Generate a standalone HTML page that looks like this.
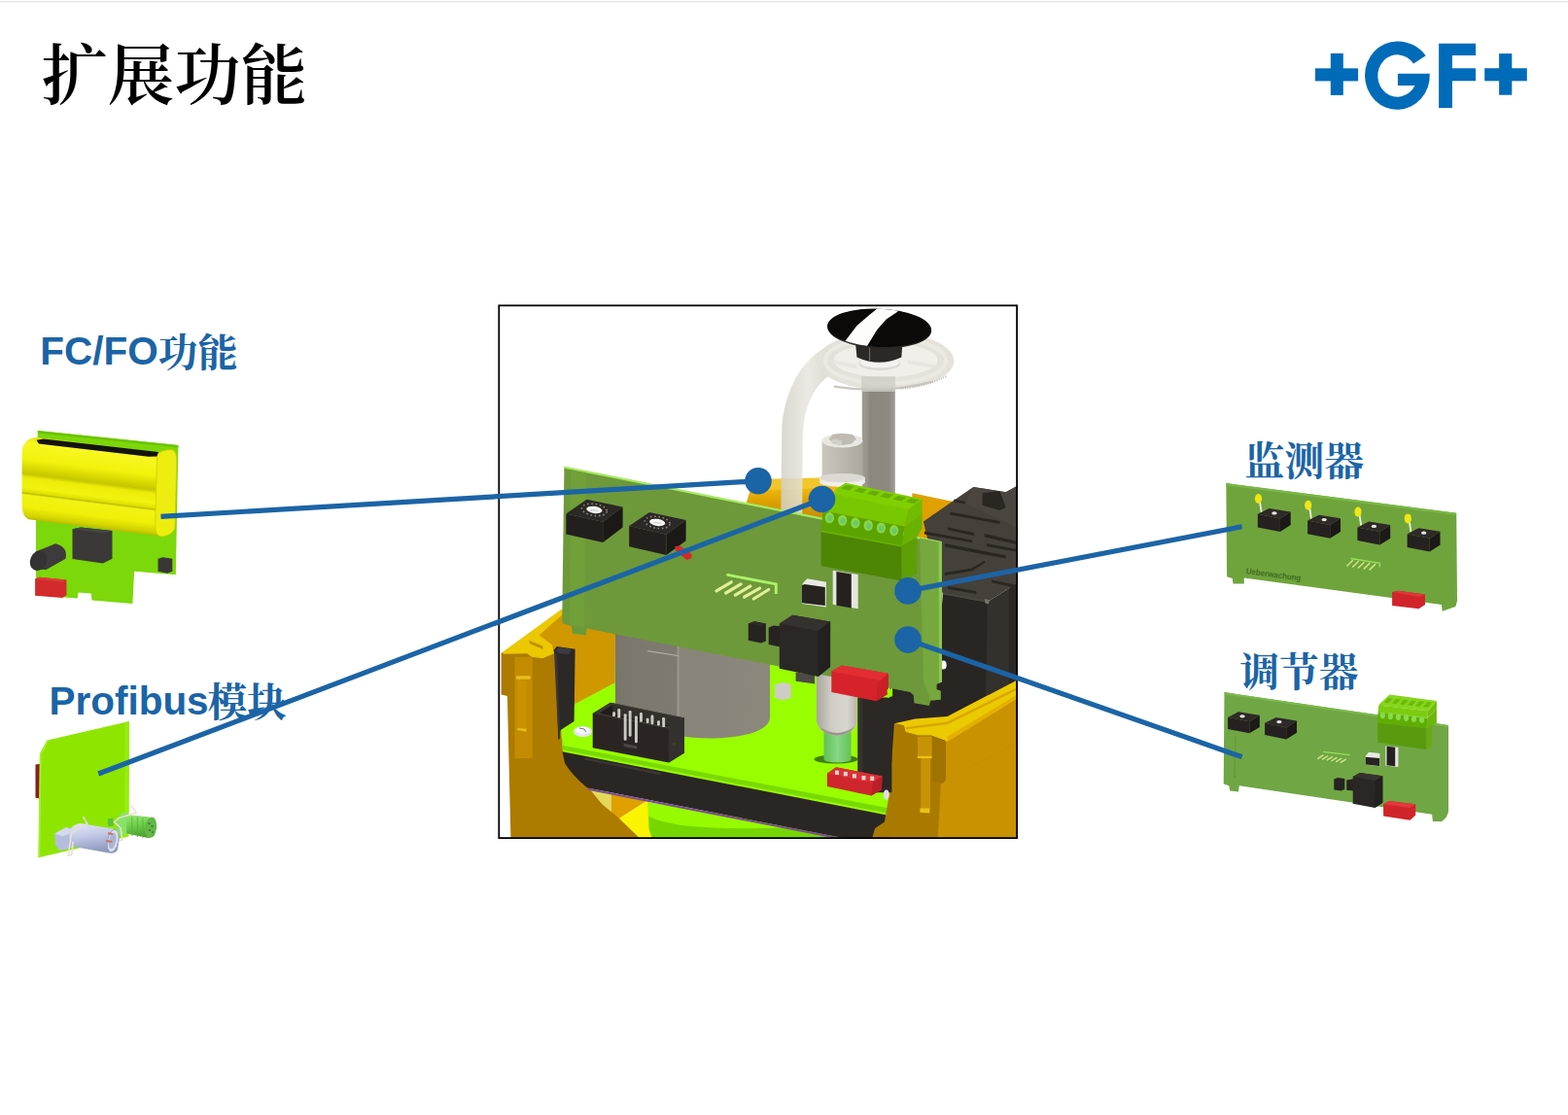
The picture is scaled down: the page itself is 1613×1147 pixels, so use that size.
<!DOCTYPE html>
<html><head><meta charset="utf-8"><title>slide</title>
<style>
html,body{margin:0;padding:0;background:#fff;}
body{width:1613px;height:1147px;overflow:hidden;position:relative;font-family:"Liberation Sans",sans-serif;}
svg{position:absolute;left:0;top:0;}
.lbl{position:absolute;font-family:"Liberation Sans",sans-serif;font-weight:bold;font-size:40.5px;line-height:40px;color:#1b64a6;white-space:nowrap;margin:0;}
</style></head><body>
<svg width="1613" height="1147" viewBox="0 0 1613 1147">
<defs>
<linearGradient id="grim" gradientUnits="userSpaceOnUse" x1="0" y1="491" x2="0" y2="535"><stop offset="0" stop-color="#f3c92a"/><stop offset="0.3" stop-color="#ecb60c"/><stop offset="0.55" stop-color="#dda200"/><stop offset="1" stop-color="#c48a00"/></linearGradient>
<linearGradient id="gtube" x1="0" x2="1"><stop offset="0" stop-color="#d2d0c5"/><stop offset="0.45" stop-color="#e6e5de"/><stop offset="1" stop-color="#cfcdc2"/></linearGradient>
<linearGradient id="gshaft" x1="0" x2="1"><stop offset="0" stop-color="#a19c93"/><stop offset="0.16" stop-color="#98938a"/><stop offset="0.24" stop-color="#8c877e"/><stop offset="0.8" stop-color="#8f8a81"/><stop offset="1" stop-color="#a09b92"/></linearGradient>
<clipPath id="discclip"><ellipse cx="904.6" cy="337.3" rx="53.4" ry="19.6" transform="rotate(2.5 904.6 337.3)"/></clipPath>
<linearGradient id="ghex" x1="0" x2="1"><stop offset="0" stop-color="#cbc7be"/><stop offset="0.45" stop-color="#beb9af"/><stop offset="1" stop-color="#aca89e"/></linearGradient>
<linearGradient id="gmotor" x1="0" x2="1" y1="0" y2="0"><stop offset="0" stop-color="#79746a"/><stop offset="0.08" stop-color="#7d786e"/><stop offset="0.395" stop-color="#7f7a70"/><stop offset="0.405" stop-color="#9b968b"/><stop offset="0.42" stop-color="#89847a"/><stop offset="1" stop-color="#8c877b"/></linearGradient>
<linearGradient id="gstand" x1="0" x2="1"><stop offset="0" stop-color="#a9a59c"/><stop offset="0.35" stop-color="#cfccc5"/><stop offset="0.75" stop-color="#d8d6d0"/><stop offset="1" stop-color="#b9b5ad"/></linearGradient>
<linearGradient id="gstem" x1="0" x2="1"><stop offset="0" stop-color="#62bf58"/><stop offset="0.5" stop-color="#86d884"/><stop offset="1" stop-color="#66c05a"/></linearGradient>
<linearGradient id="gbat" gradientUnits="userSpaceOnUse" x1="30" y1="449" x2="19.4" y2="532.9"><stop offset="0" stop-color="#e2e200"/><stop offset="0.08" stop-color="#f7f722"/><stop offset="0.28" stop-color="#f2f20c"/><stop offset="0.40" stop-color="#d4d400"/><stop offset="0.455" stop-color="#c6c600"/><stop offset="0.50" stop-color="#ecec08"/><stop offset="0.62" stop-color="#f3f310"/><stop offset="0.675" stop-color="#dede00"/><stop offset="0.69" stop-color="#bcbc00"/><stop offset="0.71" stop-color="#f3f314"/><stop offset="0.86" stop-color="#efef08"/><stop offset="0.96" stop-color="#d2d200"/><stop offset="1" stop-color="#bcbc00"/></linearGradient>
<linearGradient id="gblue" x1="0" y1="0" x2="0.25" y2="1"><stop offset="0" stop-color="#e4e8f6"/><stop offset="0.45" stop-color="#c4cce8"/><stop offset="1" stop-color="#8f9abf"/></linearGradient>
<linearGradient id="ggrn" x1="0" y1="0" x2="0.2" y2="1"><stop offset="0" stop-color="#9be878"/><stop offset="0.5" stop-color="#6fcf4c"/><stop offset="1" stop-color="#4aa030"/></linearGradient>
<clipPath id="frameclip"><rect x="513.8" y="314.8" width="532" height="547"/></clipPath>
</defs>
<rect x="0" y="1" width="1613" height="1.4" fill="#e3e3e3"/>
<!-- title -->
<text x="42.4" y="102" font-family="'Liberation Serif','Noto Serif CJK SC',serif" font-size="68" font-weight="600" fill="#000" textLength="273.6" lengthAdjust="spacingAndGlyphs">扩展功能</text>
<!-- logo -->
<g fill="#006bb9">
<rect x="1353" y="70.3" width="44.1" height="13.1"/><rect x="1368.8" y="54.9" width="13" height="43"/>
<path d="M1466.7,57.3 A35.6,35.3 0 0 0 1437.4,42.4 A33.4,35.2 0 1 0 1470.75,75.70 L1437.9,75.7 L1437.9,87.9 L1455.48,87.90 A20.2,21.7 0 1 1 1454.05,65.55 Z"/>
<path d="M1480.1,44.7 H1518 V57 H1493.9 V70.2 H1518 V83.3 H1493.9 V110.9 H1480.1 Z"/>
<rect x="1527.2" y="70.2" width="43.6" height="13.1"/><rect x="1542.1" y="55.1" width="13.2" height="42.6"/>
</g>
<!-- side illustrations -->
<polygon points="38.8,443.1 183.4,457.9 180.8,591.2 138.1,587.7 136.4,620.9 94.5,617.4 93.7,610.4 80.6,609.5 79.7,615.6 37.0,612.2 37.0,517.2" fill="#7cd80a" />
<polygon points="38.8,443.1 183.4,457.9 183.3,460.5 38.8,445.7" fill="#6cc400" />
<polygon points="74.5,544.2 83.2,542.4 115.5,545.9 115.5,574.7 105.9,579.4 74.5,575.0" fill="#3b3937" />
<polygon points="74.5,544.2 83.2,542.4 115.5,545.9 106.7,548.5" fill="#474543" />
<polygon points="162.5,574.7 167.7,573.3 177.3,574.7 177.3,587.7 172.1,589.8 162.5,587.7" fill="#3a3836" />
<path d="M36.1,567.7 L57.1,559.3 Q70.1,562.5 67.5,574.7 L47.5,586.0 Q29.2,586.9 36.1,567.7 Z" fill="#3d3b3b"/>
<ellipse cx="39.6" cy="576.8" rx="8.5" ry="10.5" fill="#343232" transform="rotate(25 39.6 576.8)"/>
<polygon points="36.1,595.6 40.5,593.8 68.4,596.5 68.4,612.2 64.0,615.1 36.1,612.7" fill="#d32a2c" />
<polygon points="36.1,595.6 40.5,593.8 68.4,596.5 64.4,598.7" fill="#e03a3a" />
<path d="M22.6,464.9 Q23.9,450.9 37.9,450.0 L162.5,465.4 L161.6,551.1 L29.2,534.2 Q22.2,531.1 22.6,517.2 Z" fill="url(#gbat)"/>
<path d="M161.6,467.5 Q166.9,462.2 177.3,462.8 Q182.6,464.9 181.7,478.8 L179.9,543.3 Q177.3,550.3 166.9,552.0 Q159.9,552.0 159.6,541.6 Z" fill="#eded10" stroke="#cfcf00" stroke-width="0.8"/>
<polygon points="37.5,452.7 44.9,451.6 163.0,464.9 161.3,469.4 152.9,469.7 40.0,456.5" fill="#14120c" />
<polygon points="36.5,786.5 41.2,785.8 41.2,821.4 36.5,820.7" fill="#8e1b1e" />
<polygon points="40.9,775.3 48.6,761.4 133.0,741.9 132.3,860.6 39.5,882.3" fill="#8ee600" />
<polygon points="128.5,743.0 133.0,741.9 132.3,860.6 128.1,861.5" fill="#96ee0a" />
<polygon points="40.9,775.3 48.6,761.4 50.0,762.1 42.6,776.0 41.2,882.0 39.5,882.3" fill="#a4f02a" />
<polygon points="56.3,857.6 68.1,851.1 77.2,854.8 77.2,870.9 61.8,875.3 57.0,869.5" fill="#b4bedc" />
<polygon points="56.3,857.6 68.1,851.1 77.2,854.8 64.6,860.4" fill="#d4daf0" />
<path d="M70.9,859.7 Q70.9,848.6 82.8,846.9 L116.2,852.5 Q122.5,855.5 122.5,863.9 L121.1,873.7 Q119.0,878.6 112.1,877.6 L77.2,871.2 Q70.9,869.5 70.9,859.7 Z" fill="url(#gblue)"/>
<ellipse cx="116.2" cy="865.0" rx="5.6" ry="11.8" fill="#d9def0" stroke="#8f98ba" stroke-width="0.8" transform="rotate(12 116.2 865.0)"/>
<ellipse cx="115.6" cy="865.0" rx="3.6" ry="8.5" fill="#aeb4cf" transform="rotate(12 115.6 865.0)"/>
<polygon points="111.4,856.2 116.2,856.9 116.0,859.0 110.9,858.3" fill="#c97058" />
<polygon points="109.3,863.9 115.6,865.0 115.3,867.0 109.0,866.0" fill="#c97058" />
<polyline points="85.6,840.2 89.7,847.2 73.7,856.2 70.2,880.0 73.7,879.3 75.1,866.0" fill="none" stroke="#e6e1d6" stroke-width="1.6"/>
<polyline points="86.7,840.5 90.9,847.5" fill="none" stroke="#bdb8ae" stroke-width="0.6"/>
<polygon points="110.7,842.3 116.2,841.6 116.9,849.3 111.4,850.2" fill="#5cc040" />
<ellipse cx="126.7" cy="847.5" rx="6.6" ry="12.4" fill="#8be066" transform="rotate(10 126.7 847.5)"/>
<path d="M130.2,838.1 L152.5,840.2 Q160.9,843.0 161.2,851.4 L159.5,857.6 Q158.1,862.5 151.1,861.8 L130.2,857.6 Z" fill="url(#ggrn)"/>
<ellipse cx="155.0" cy="851.1" rx="5.8" ry="10.8" fill="#63b848" transform="rotate(10 155.0 851.1)"/>
<circle cx="153.5" cy="847.1" r="1.1" fill="#3c7a2c"/>
<circle cx="156.5" cy="850.1" r="1.1" fill="#3c7a2c"/>
<circle cx="154.0" cy="854.1" r="1.1" fill="#3c7a2c"/>
<circle cx="157.0" cy="856.1" r="1.1" fill="#3c7a2c"/>
<line x1="135.8" y1="840.1" x2="135.8" y2="860.0" stroke="#58b23c" stroke-width="0.9"/>
<line x1="141.4" y1="840.6" x2="141.4" y2="861.0" stroke="#58b23c" stroke-width="0.9"/>
<line x1="146.9" y1="841.2" x2="146.9" y2="862.0" stroke="#58b23c" stroke-width="0.9"/>
<polyline points="134.4,827.6 140.0,836.0 121.8,841.6 117.6,845.8 123.9,851.4 126.0,863.9 123.2,864.6" fill="none" stroke="#e6e1d6" stroke-width="1.6"/>
<polygon points="1261.3,497.1 1498.2,527.7 1499.0,618.0 1497.4,623.9 1483.7,628.8 1482.9,622.0 1279.8,594.6 1279.8,600.4 1268.5,600.4 1267.7,594.9 1262.1,593.3" fill="#6fa43c" />
<polygon points="1261.3,497.1 1498.2,527.7 1498.2,530.1 1261.3,499.5" fill="#7ab845" />
<line x1="1295.9" y1="515.6" x2="1297.7" y2="527.2" stroke="#eef0e0" stroke-width="1.8"/>
<ellipse cx="1294.5" cy="513.0" rx="3.6" ry="5" fill="#f0e616"/>
<polygon points="1293.8,528.8 1316.9,533.4 1316.9,547.1 1293.8,542.5" fill="#252120" />
<polygon points="1316.9,533.4 1327.7,526.4 1327.7,540.1 1316.9,547.1" fill="#1c1918" />
<polygon points="1293.8,528.8 1305.6,522.9 1327.7,526.4 1316.9,533.4" fill="#2e2a28" />
<ellipse cx="1310.9" cy="527.9" rx="2.7" ry="1.6" fill="#e8e8e6"/>
<line x1="1347.2" y1="522.4" x2="1349.0" y2="534.0" stroke="#eef0e0" stroke-width="1.8"/>
<ellipse cx="1345.7" cy="519.8" rx="3.6" ry="5" fill="#f0e616"/>
<polygon points="1345.1,535.6 1368.2,540.1 1368.2,553.8 1345.1,549.3" fill="#252120" />
<polygon points="1368.2,540.1 1379.0,533.2 1379.0,546.9 1368.2,553.8" fill="#1c1918" />
<polygon points="1345.1,535.6 1356.9,529.7 1379.0,533.2 1368.2,540.1" fill="#2e2a28" />
<ellipse cx="1362.2" cy="534.6" rx="2.7" ry="1.6" fill="#e8e8e6"/>
<line x1="1398.5" y1="529.2" x2="1400.2" y2="540.8" stroke="#eef0e0" stroke-width="1.8"/>
<ellipse cx="1397.0" cy="526.6" rx="3.6" ry="5" fill="#f0e616"/>
<polygon points="1396.4,542.4 1419.4,546.9 1419.4,560.6 1396.4,556.1" fill="#252120" />
<polygon points="1419.4,546.9 1430.2,540.0 1430.2,553.7 1419.4,560.6" fill="#1c1918" />
<polygon points="1396.4,542.4 1408.1,536.4 1430.2,540.0 1419.4,546.9" fill="#2e2a28" />
<ellipse cx="1413.4" cy="541.4" rx="2.7" ry="1.6" fill="#e8e8e6"/>
<line x1="1449.7" y1="535.9" x2="1451.5" y2="547.5" stroke="#eef0e0" stroke-width="1.8"/>
<ellipse cx="1448.3" cy="533.4" rx="3.6" ry="5" fill="#f0e616"/>
<polygon points="1447.6,549.2 1470.7,553.7 1470.7,567.4 1447.6,562.9" fill="#252120" />
<polygon points="1470.7,553.7 1481.5,546.7 1481.5,560.4 1470.7,567.4" fill="#1c1918" />
<polygon points="1447.6,549.2 1459.4,543.2 1481.5,546.7 1470.7,553.7" fill="#2e2a28" />
<ellipse cx="1464.7" cy="548.2" rx="2.7" ry="1.6" fill="#e8e8e6"/>
<polyline points="1389.4,574.5 1419.3,579.3 1419.3,583.6" fill="none" stroke="#98e058" stroke-width="1.4"/>
<line x1="1385.4" y1="582.5" x2="1391.8" y2="576.2" stroke="#cfe488" stroke-width="1.5"/>
<line x1="1391.2" y1="583.5" x2="1397.7" y2="577.2" stroke="#cfe488" stroke-width="1.5"/>
<line x1="1397.0" y1="584.5" x2="1403.5" y2="578.2" stroke="#cfe488" stroke-width="1.5"/>
<line x1="1402.8" y1="585.4" x2="1409.3" y2="579.1" stroke="#cfe488" stroke-width="1.5"/>
<line x1="1408.6" y1="586.4" x2="1415.1" y2="580.1" stroke="#cfe488" stroke-width="1.5"/>
<polygon points="1432.1,609.1 1438.6,607.8 1466.0,611.5 1466.0,622.0 1459.5,626.2 1432.1,623.0" fill="#d1242a" />
<polygon points="1432.1,609.1 1438.6,607.8 1466.0,611.5 1459.5,614.0" fill="#e0353a" />
<text x="0" y="0" transform="translate(1281.4,590.1) rotate(7.6)" font-family="Liberation Sans, sans-serif" font-weight="bold" font-size="8.6" fill="#3e6d20" textLength="57" lengthAdjust="spacingAndGlyphs">Ueberwachung</text>
<polygon points="1259.5,712.1 1490.0,745.9 1490.0,835.4 1487.6,841.0 1483.2,845.1 1473.9,845.1 1473.1,837.8 1274.8,808.3 1274.0,814.4 1265.1,813.6 1264.3,808.3 1258.7,806.4" fill="#70a644" />
<polygon points="1259.5,712.1 1490.0,745.9 1490.0,748.0 1259.5,714.2" fill="#7cba4c" />
<line x1="1270.8" y1="758.0" x2="1270.0" y2="799.9" stroke="#5e9236" stroke-width="1.6" stroke-dasharray="1.5 1.2" opacity="0.8"/>
<polygon points="1263.1,737.9 1285.3,742.2 1285.3,754.3 1263.1,750.0" fill="#252120" />
<polygon points="1285.3,742.2 1295.8,735.8 1295.8,747.9 1285.3,754.3" fill="#1c1918" />
<polygon points="1263.1,737.9 1274.0,732.2 1295.8,735.8 1285.3,742.2" fill="#2e2a28" />
<ellipse cx="1278.0" cy="736.8" rx="2.7" ry="1.6" fill="#e8e8e6"/>
<polygon points="1301.1,743.8 1323.2,748.4 1323.2,760.4 1301.1,755.9" fill="#252120" />
<polygon points="1323.2,748.4 1334.0,741.6 1334.0,753.7 1323.2,760.4" fill="#1c1918" />
<polygon points="1301.1,743.8 1312.7,737.9 1334.0,741.6 1323.2,748.4" fill="#2e2a28" />
<ellipse cx="1315.9" cy="742.6" rx="2.7" ry="1.6" fill="#e8e8e6"/>
<polyline points="1361.1,773.3 1388.5,776.7" fill="none" stroke="#98e058" stroke-width="1.2"/>
<line x1="1355.4" y1="780.6" x2="1361.4" y2="776.7" stroke="#d2e68c" stroke-width="1.4"/>
<line x1="1360.1" y1="781.4" x2="1366.1" y2="777.5" stroke="#d2e68c" stroke-width="1.4"/>
<line x1="1364.8" y1="782.2" x2="1370.7" y2="778.3" stroke="#d2e68c" stroke-width="1.4"/>
<line x1="1369.4" y1="783.0" x2="1375.4" y2="779.1" stroke="#d2e68c" stroke-width="1.4"/>
<line x1="1374.1" y1="783.8" x2="1380.1" y2="780.0" stroke="#d2e68c" stroke-width="1.4"/>
<line x1="1378.8" y1="784.6" x2="1384.8" y2="780.8" stroke="#d2e68c" stroke-width="1.4"/>
<polygon points="1425.2,767.4 1438.4,768.7 1438.4,789.0 1425.2,787.4" fill="#e8e7e2" />
<polygon points="1426.5,767.7 1435.2,768.7 1435.2,788.3 1426.5,787.2" fill="#242120" />
<polygon points="1404.9,777.4 1408.1,773.8 1419.4,775.1 1419.4,788.3 1404.9,786.7" fill="#e9e9e5" />
<polygon points="1404.9,778.7 1419.1,780.1 1419.1,788.0 1404.9,786.6" fill="#262321" />
<polygon points="1372.3,801.6 1376.4,799.9 1383.3,800.9 1383.3,812.0 1379.6,813.6 1372.3,812.5" fill="#262321" />
<polygon points="1385.2,802.4 1392.5,801.2 1392.5,813.6 1385.2,812.8" fill="#262321" />
<polygon points="1391.7,799.1 1398.9,795.1 1422.3,798.3 1422.3,825.7 1414.3,830.9 1391.7,826.7" fill="#2a2725" />
<polygon points="1391.7,799.1 1398.9,795.1 1422.3,798.3 1414.6,803.2" fill="#36322f" />
<polygon points="1414.6,803.2 1422.3,798.3 1422.3,825.7 1414.3,830.9" fill="#222020" />
<polygon points="1423.1,827.3 1428.8,824.1 1456.2,827.3 1456.2,838.6 1450.5,843.8 1423.1,839.6" fill="#d1242a" />
<polygon points="1423.1,827.3 1428.8,824.1 1456.2,827.3 1450.5,830.9" fill="#e3383c" />
<polygon points="1417.2,743.5 1467.4,749.2 1467.4,770.9 1417.2,763.8" fill="#5a9a0e" />
<polygon points="1467.4,749.2 1473.1,746.7 1473.1,768.0 1467.4,770.9" fill="#68aa14" />
<polygon points="1417.5,733.0 1468.3,738.7 1467.4,749.2 1417.2,743.5" fill="#60ae02" />
<polygon points="1468.3,738.7 1477.9,729.0 1477.9,743.5 1473.1,746.7 1467.4,749.2" fill="#6cb60e" />
<polygon points="1418.3,725.5 1469.1,731.3 1468.3,738.7 1417.5,733.2" fill="#7ccc10" />
<polygon points="1469.1,731.3 1477.9,721.0 1477.9,729.0 1468.3,738.7" fill="#72be0c" />
<polygon points="1419.1,724.2 1429.6,714.5 1477.9,721.0 1469.1,731.3 1418.3,725.8" fill="#86d61e" />
<ellipse cx="1422.3" cy="735.8" rx="2.6" ry="3.4" fill="#8ad850"/>
<polygon points="1423.6,722.6 1428.0,718.1 1432.8,718.7 1428.4,723.2" fill="#6cba08" />
<ellipse cx="1430.4" cy="736.7" rx="2.6" ry="3.4" fill="#8ad850"/>
<polygon points="1431.7,723.5 1436.0,718.9 1440.8,719.5 1436.5,724.1" fill="#6cba08" />
<ellipse cx="1438.4" cy="737.6" rx="2.6" ry="3.4" fill="#8ad850"/>
<polygon points="1439.7,724.4 1444.1,719.7 1448.9,720.3 1444.6,725.0" fill="#6cba08" />
<ellipse cx="1446.5" cy="738.5" rx="2.6" ry="3.4" fill="#8ad850"/>
<polygon points="1447.8,725.3 1452.1,720.5 1457.0,721.1 1452.6,725.9" fill="#6cba08" />
<ellipse cx="1454.5" cy="739.4" rx="2.6" ry="3.4" fill="#8ad850"/>
<polygon points="1455.8,726.2 1460.2,721.3 1465.0,721.9 1460.7,726.8" fill="#6cba08" />
<ellipse cx="1462.6" cy="740.3" rx="2.6" ry="3.4" fill="#8ad850"/>
<polygon points="1463.9,727.1 1468.3,722.1 1473.1,722.7 1468.7,727.7" fill="#6cba08" />
<!-- main illustration -->
<g clip-path="url(#frameclip)">
<rect x="513" y="314" width="534" height="549" fill="#fff"/>
<polygon points="767.0,520.2 774.8,493.4 842.8,492.3 869.6,497.9 947.7,513.5 979.0,515.7 979.0,538.0 946.6,547.0 842.8,547.0 773.7,531.3" fill="url(#grim)" />
<polygon points="771.4,504.6 777.7,492.9 842.8,491.6 856.2,495.6 842.8,502.3" fill="#f2c62a" />
<path d="M856.2,354.4 C832.5,362.5 809.3,390.6 804.4,437.0 L803.2,529.7 L825.2,529.7 L825.9,446.7 C827.6,415.0 838.6,393.0 863.0,379.6 Z" fill="url(#gtube)" opacity="0.84"/>
<rect x="886.8" y="380" width="34" height="130" fill="url(#gshaft)"/>
<ellipse cx="910.8" cy="371.3" rx="70.6" ry="29.6" fill="#e2e0d8" opacity="0.94"/>
<ellipse cx="911" cy="370.5" rx="53.5" ry="17.5" fill="#f0efea" opacity="0.95"/>
<ellipse cx="911" cy="371" rx="62" ry="23.6" fill="none" stroke="#ecebe6" stroke-width="4" opacity="0.8"/>
<polygon points="886.1,387.2 920.8,387.2 920.8,402.9 886.1,402.9" fill="#cfccc4" opacity="0.75"/>
<path d="M858.0,397.7 Q907.7,405.5 960.0,392.5" fill="none" stroke="#c9c7be" stroke-width="2.2"/>
<path d="M926.0,399.6 Q950.8,398.3 973.1,387.2" fill="none" stroke="#bfbdb4" stroke-width="2" stroke-dasharray="1.2 1.2"/>
<polygon points="851.5,368.9 881.5,375.5 881.5,379.4 851.5,372.8" fill="#e6e4dd" opacity="0.8"/>
<polygon points="933.8,370.2 963.9,375.5 963.9,379.4 933.8,374.1" fill="#e6e4dd" opacity="0.8"/>
<ellipse cx="904.8012552301255" cy="374.407949790795" rx="21.5" ry="6.5" fill="#dedbd3"/>
<ellipse cx="904.8012552301255" cy="373.1004184100418" rx="20" ry="5.2" fill="#f3f2ef"/>
<path d="M880.2,354.5 L928.3,354.5 L927.3,367.6 Q904.4,378.1 881.5,367.6 Z" fill="#2c2825"/>
<line x1="894.6025104602511" y1="357.14853556485355" x2="894.6025104602511" y2="371.5313807531381" stroke="#77736d" stroke-width="1"/>
<ellipse cx="904.6" cy="338.2" rx="53.6" ry="20.2" fill="#2b2825" transform="rotate(2.5 904.6 338.2)"/>
<ellipse cx="904.6" cy="337.3" rx="53.4" ry="19.6" fill="#0b0a09" transform="rotate(2.5 904.6 337.3)"/>
<g clip-path="url(#discclip)"><polygon points="905.1,315.3 924.7,319.2 922.1,321.6 911.6,328.6 902.4,339.1 891.3,357.1 868.5,351.9 881.5,334.9 894.6,323.8" fill="#fdfdfb" /></g>
<path d="M845.6,453.5 L887.4,453.5 L887.4,492 L845.6,492 Z" fill="url(#ghex)"/>
<ellipse cx="866.5" cy="496" rx="23.3" ry="5" fill="#f0efec"/>
<rect x="843.2" y="491.5" width="46.6" height="4.5" fill="#ecebe7"/>
<ellipse cx="866.5" cy="491.5" rx="23.3" ry="4.6" fill="#dcd9d2"/>
<ellipse cx="866.5" cy="453.3" rx="20.9" ry="7.2" fill="#e9e7e2"/>
<polygon points="852.5,451.5 857,446.8 866.5,445.8 877,447 880.8,451.5 876,456.5 866,458 857.5,456.8" fill="#bfbbb2"/>
<polygon points="854,453.5 858,451.5 866,453.5 866,458 857.5,456.8" fill="#d3d0c9"/>
<polygon points="592.3,804.6 628.8,816.5 628.8,843.3 607.2,827.0" fill="#e4d85a" />
<polygon points="628.8,816.5 665.2,824.0 637.0,842.1 628.8,849.3" fill="#dfa000" />
<polygon points="637.0,842.1 665.2,824.0 668.2,825.5 668.2,849.3 677.1,867.1 644.4,867.1 626.5,849.3" fill="#fbf400" />
<polygon points="666.7,825.5 912.2,864.2 912.2,873.1 674.2,873.1 667.5,852.3" fill="#76d600" />
<path d="M666.7,825.5 L912.2,864.2 L837.8,849.3 Q763.4,855.2 703.9,849.3 Q674.2,844.8 666.7,838.9 Z" fill="#96fa00"/>
<polygon points="544.9,661.8 577.0,628.4 635.5,640.9 635.5,717.6 591.6,745.5 570.0,731.6 565.8,673.0" fill="#cf9700" />
<polygon points="515.6,671.5 574,668 580,775 592,797 608,813.5 619.1,827 637,842 664,868 525.6,870 521.9,716 515.6,714.5" fill="#ad7b00"/>
<polygon points="529.5,675.8 547.7,675.8 547.7,780.0 529.5,780.0" fill="#c38c00" />
<polygon points="532.3,698.8 541.4,698.8 541.4,752.5 532.3,750.4" fill="#c99200" />
<polygon points="530.9,695.3 545.6,695.3 545.6,698.8 530.9,698.8" fill="#e6be1e" />
<polygon points="532.3,749.0 541.4,749.7 541.4,752.8 532.3,751.1" fill="#e6be1e" />
<polygon points="516.3,671.3 578.3,626.3 580.4,630.5 554.6,653.5 567.9,663.2 570.0,672.3 558.1,677.2 547.0,675.8 542.1,672.3 518.4,672.7" fill="#ebc800" />
<polygon points="543.5,658.4 558.1,664.6 558.8,668.1 545.6,662.5" fill="#c48f00" />
<polygon points="577,751 591.6,724 632.7,702.3 633,640 912,690 919,840 579,774" fill="#99fe00"/>
<polygon points="577,751 578.9,771.2 915,837 915,831.5 579.5,767" fill="#78da00"/>
<path d="M578.5,773.2 L915,839 L915,871 L900,868.4 L604.2,810.6 Q588,797 581,785 Z" fill="#2a2624"/>
<polygon points="602.0,779.3 680.1,795.0 679.4,797.2 601.2,781.6" fill="#3c3735" />
<polygon points="604.2,810.6 900,868.4 900,870.6 606,813" fill="#7a4f8c"/>
<path d="M633,640 L792,640 L792,739 A79.8,27 5.4 0 1 633,724 Z" fill="url(#gmotor)"/>
<polygon points="666.2,669.1 698.0,674.0 698.0,675.2 666.2,670.3" fill="#b0aba0" />
<polygon points="569.7,668.8 572.8,664.9 591.6,667.7 590.6,742.1 576.7,751.1 574.4,760.9 571.4,675.8" fill="#2b2826" />
<polygon points="571.4,668.1 575.6,666.0 588.1,668.1 585.3,673.0 574.2,672.3" fill="#3c3a44" />
<polygon points="570.0,670.2 573.0,673.0 576.3,759.5 574.4,760.9" fill="#3a3633" />
<polygon points="938.4,507.2 980.2,516.0 950.9,558.5 938.4,558.5" fill="#e0a000" />
<polygon points="915,690 1047,600 1047,760 915,800" fill="#2a2725"/>
<polygon points="949.9,536.5 1001.2,500.9 1034.7,506.2 1047.2,499.3 1047.2,599.3 1015.8,619.2 969.8,610.8 961.4,584.7" fill="#45403a" />
<polygon points="1001.2,500.9 1034.7,506.2 1047.2,499.3 1047.2,542.8 992.8,517.7" fill="#4a453f" />
<polygon points="969.8,610.8 1015.8,619.2 1013.7,731.2 961.4,731.2" fill="#292522" />
<polygon points="1015.8,619.2 1047.2,599.3 1047.2,731.2 1013.7,731.2" fill="#34302b" />
<polygon points="1037.8,605.2 1047.2,599.3 1047.2,731.2 1037.8,731.2" fill="#2b2824" />
<polygon points="969.8,609.4 1015.8,617.7 1015.8,619.8 969.8,611.5" fill="#4a4640" />
<polygon points="1012.7,616.1 1017.9,617.1 1016.9,621.3 1013.7,620.7" fill="#77726b" />
<polygon points="977.1,526.5 1028.4,536.1 1028.4,539.0 977.1,529.4" fill="#2a2621" />
<polygon points="975.0,542.4 1002.2,548.0 1002.2,551.2 975.0,545.3" fill="#2a2621" />
<polygon points="1012.7,549.1 1047.2,557.0 1047.2,560.4 1012.7,552.4" fill="#2a2621" />
<polygon points="971.9,559.1 1034.7,571.3 1034.7,574.6 971.9,562.5" fill="#2a2621" />
<polygon points="1014.8,559.1 1047.2,565.0 1047.2,567.9 1014.8,562.1" fill="#2a2621" />
<polygon points="950.9,546.6 1000.1,555.4 1000.1,558.3 950.9,549.5" fill="#2a2621" />
<polygon points="975.0,603.1 1004.3,608.1 1004.3,611.0 975.0,606.0" fill="#2a2621" />
<polygon points="1020.0,596.4 1047.2,602.3 1047.2,605.2 1020.0,599.3" fill="#2a2621" />
<polygon points="981.3,513.5 992.8,516.0 992.8,518.5 981.3,516.0" fill="#2a2621" />
<polygon points="1010.6,507.2 1028.4,505.1 1034.7,521.9 1028.4,525.0 1010.6,519.8" fill="#2a2621" />
<polygon points="971.9,588.9 999.1,584.7 1012.7,576.7 1013.7,578.4 1000.1,587.2 971.9,592.0" fill="#2a2621" />
<ellipse cx="970.5" cy="684" rx="3.2" ry="4.5" fill="#fff"/>
<polygon points="919.9,744.3 929.8,746.3 931.5,752.9 944.7,756.2 958.0,756.2 972.9,762.8 972.9,802.6 969.6,805.9 966.3,863.9 896.7,863.9 900.0,852.3 909.9,845.6 914.9,815.8" fill="#aa7a00" />
<polygon points="971.2,762.8 1047.4,717.8 1047.4,863.9 964.6,863.9 967.9,805.9 971.2,802.6" fill="#c99200" />
<polygon points="919.9,744.3 941.4,739.6 974.5,737.1 1047.4,699.0 1047.4,717.8 974.5,762.8 958.0,756.5 944.7,756.5 931.5,752.9 929.8,746.3" fill="#ebca00" />
<polygon points="931.5,747.9 974.5,742.6 1047.4,706.5 1047.4,709.2 974.5,745.3 932.3,750.2" fill="#d8a600" />
<polygon points="974.5,757.8 1047.4,714.0 1047.4,717.8 974.5,762.8" fill="#e3b000" />
<polygon points="982.8,796.8 1047.4,762.8 1047.4,763.8 982.8,797.8" fill="#c89000" />
<polygon points="943.9,757.8 958.8,757.8 958.8,779.4 957.1,781.0 957.1,832.4 947.2,832.4 947.2,781.0 943.9,779.4" fill="#c79306" />
<polygon points="943.9,777.7 958.8,777.7 958.8,780.0 943.9,780.0" fill="#ebc314" />
<polygon points="946.4,831.6 956.3,831.6 956.3,836.5 946.4,835.7" fill="#ebc314" />
<polygon points="958.8,757.8 972.9,762.8 972.9,802.6 969.6,805.9 958.8,802.6" fill="#a07200" />
<ellipse cx="860" cy="781" rx="22.5" ry="4.6" fill="#3f7f10"/>
<path d="M847.5,745 L875.5,745 L875.5,781 A14,3.6 0 0 1 847.5,781 Z" fill="url(#gstem)"/>
<path d="M840,690 L881.5,690 L881.5,741 Q880,755.5 861,756.8 Q842,755.5 840,741 Z" fill="url(#gstand)"/>
<path d="M843,747.5 Q861,760.5 879,747.5 Q875,755.5 861,756.8 Q847,755.5 843,747.5 Z" fill="#9a968c"/>
<polygon points="882.5,717.6 917.4,717.6 917.4,815.3 882.5,815.3" fill="#2b2826" />
<polygon points="882.5,717.6 887.4,717.6 887.4,815.3 882.5,815.3" fill="#353230" />
<polygon points="797.0,704.1 805.3,702.1 813.7,704.1 813.7,718.1 805.3,720.2 797.0,718.1" fill="#cfcbc6" />
<polygon points="818.6,691.6 838.1,694.4 838.1,703.4 818.6,700.7" fill="#4b4a47" />
<polygon points="580.4,480.6 968.9,558 969,701.6 963.4,703.7 963.4,709.3 967.6,710.7 967.6,719.7 957.2,720.4 955.8,726 940.4,723.2 939.7,714.9 936.2,712.1 603.6,646.6 602.7,653.5 588.8,651.8 587.9,644 578.3,641.3 578.3,632.6" fill="#6d993a"/>
<polygon points="580.4,479.6 968.9,557 968.9,559.2 580.4,481.8" fill="#a6ea62"/>
<polygon points="587,483 603,486 601,646 586,643" fill="#72a634" opacity="0.55"/>
<polygon points="946,553.5 968.9,558 969,701.6 963.4,703.7 963.4,709.3 967.6,710.7 967.6,719.7 957.2,720.4 950,700" fill="#76a83f"/>
<polygon points="965.6,557.4 968.9,558 969,701.6 966,702.6" fill="#8cc850"/>
<polygon points="582.3,528.4 620.2,536.7 620.2,557.9000000000001 582.3,549.6" fill="#231f1e"/>
<polygon points="620.2,536.7 640.6,521.4 640.6,542.6 620.2,557.9000000000001" fill="#1b1817"/>
<polygon points="582.3,528.4 603.6,513.7 640.6,521.4 620.2,536.7" fill="#2c2826"/>
<ellipse cx="611.4" cy="524.4" rx="8.2" ry="3.6" fill="#f4f4f2" transform="rotate(8 611.4 524.4)"/>
<ellipse cx="611.4" cy="524.4" rx="13" ry="6" fill="none" stroke="#8a8680" stroke-width="1.6" stroke-dasharray="1.6 2.6" transform="rotate(8 611.4 524.4)"/>
<line x1="607.4" y1="524.6" x2="615.4" y2="525.3" stroke="#c9c9c6" stroke-width="1"/>
<polygon points="647.2,541.1 685.5,549.8 685.5,571.0 647.2,562.3000000000001" fill="#231f1e"/>
<polygon points="685.5,549.8 705.6,535.0 705.6,556.2 685.5,571.0" fill="#1b1817"/>
<polygon points="647.2,541.1 668.1,527.1 705.6,535.0 685.5,549.8" fill="#2c2826"/>
<ellipse cx="676.2" cy="537.4" rx="8.2" ry="3.6" fill="#f4f4f2" transform="rotate(8 676.2 537.4)"/>
<ellipse cx="676.2" cy="537.4" rx="13" ry="6" fill="none" stroke="#8a8680" stroke-width="1.6" stroke-dasharray="1.6 2.6" transform="rotate(8 676.2 537.4)"/>
<line x1="672.2" y1="537.6" x2="680.2" y2="538.3" stroke="#c9c9c6" stroke-width="1"/>
<polygon points="694.3,562.0 699.5,561.5 711.7,569.9 711.4,574.2 706.5,576.0 695.1,566.4" fill="#d8262c" />
<polyline points="747.4,591.2 798.3,600.9 798.3,611.0" fill="none" stroke="#aef26c" stroke-width="2.8" stroke-linejoin="miter"/>
<line x1="737.0" y1="607.9" x2="752.3" y2="598.8" stroke="#e0f096" stroke-width="3.2" stroke-linecap="round"/>
<line x1="746.7" y1="610.0" x2="762.1" y2="600.9" stroke="#e0f096" stroke-width="3.2" stroke-linecap="round"/>
<line x1="756.5" y1="612.1" x2="771.8" y2="603.0" stroke="#e0f096" stroke-width="3.2" stroke-linecap="round"/>
<line x1="765.6" y1="614.2" x2="781.6" y2="605.1" stroke="#e0f096" stroke-width="3.2" stroke-linecap="round"/>
<line x1="775.3" y1="616.0" x2="790.7" y2="606.5" stroke="#e0f096" stroke-width="3.2" stroke-linecap="round"/>
<polygon points="824.9,603.7 826.2,599.5 830.4,595.3 850.0,598.8 849.7,624.6 824.9,621.1" fill="#e9e9e5" />
<polygon points="824.9,602.3 827.6,600.9 848.8,604.0 848.8,623.0 824.9,620.2" fill="#262321" />
<polygon points="856.7,586.7 882.7,590.9 882.7,626.3 856.7,621.8" fill="#e6e5e0" />
<polygon points="860.4,588.1 875.8,590.6 875.8,625.5 860.4,622.7" fill="#242120" />
<polygon points="769.8,641.4 776.0,639.3 787.9,641.4 787.9,659.5 783.0,661.6 769.8,658.8" fill="#262321" />
<polygon points="769.8,641.4 776.0,639.3 787.9,641.4 782.3,643.5" fill="#2f2b29" />
<polygon points="790.7,645.6 795.6,643.5 803.9,644.2 803.9,665.8 790.7,663.0" fill="#262321" />
<polygon points="801.8,641.4 815.4,632.7 854.1,639.4 854.1,686.0 841.6,696.1 801.8,687.7" fill="#2a2725" />
<polygon points="801.8,641.4 815.4,632.7 854.1,639.4 841.6,649.2" fill="#35312f" />
<polygon points="841.6,649.2 854.1,639.4 854.1,686.0 841.6,696.1" fill="#222020" />
<polygon points="855.3,690.4 865.8,684.4 913.7,692.8 913.7,713.7 901.4,721.3 855.3,712.1" fill="#d6222a" />
<polygon points="855.3,690.4 865.8,684.4 913.7,692.8 905.6,700.2" fill="#e42d33" />
<polygon points="905.6,700.2 913.7,692.8 913.7,713.7 901.4,721.3 902.5,703.7" fill="#c91f27" />
<polygon points="912.5,709.3 918.1,707.9 918.1,716.2 913.2,717.6" fill="#99fe00" />
<polygon points="844.6,546.3 927.6,561.6 927.6,597.5 844.6,582.1" fill="#4d8504" />
<polygon points="927.6,561.6 943.3,552.5 943.3,590.5 927.6,597.5" fill="#5e9f06" />
<polygon points="846.5,525.3 930.7,541.4 927.6,561.6 844.6,546.3" fill="#5ba400" />
<polygon points="930.7,541.4 948.6,528.8 948.6,543.5 943.3,552.5 927.6,561.6" fill="#69b200" />
<polygon points="858.6,507.9 934.6,523.5 930.7,541.4 846.5,525.3 850.9,514.9" fill="#78c800" />
<polygon points="934.6,523.5 948.6,513.5 948.6,528.8 930.7,541.4" fill="#70bc00" />
<polygon points="860.0,503.0 869.8,496.7 948.6,513.2 934.6,523.8 858.6,508.2" fill="#7fd000" />
<polygon points="864.9,502.6 870.2,499.0 878.8,500.6 873.5,504.6" fill="#66ae00" />
<polygon points="878.3,505.3 883.6,501.7 892.2,503.4 886.9,507.3" fill="#66ae00" />
<polygon points="891.7,508.0 897.0,504.4 905.6,506.1 900.3,510.0" fill="#66ae00" />
<polygon points="905.0,510.8 910.3,507.1 919.0,508.8 913.7,512.7" fill="#66ae00" />
<polygon points="918.4,513.5 923.7,509.9 932.4,511.5 927.1,515.4" fill="#66ae00" />
<polygon points="931.8,516.2 937.1,512.6 945.8,514.2 940.5,518.2" fill="#66ae00" />

<ellipse cx="853.4" cy="532.7" rx="4.6" ry="5.6" fill="#86d848"/>
<ellipse cx="853.7" cy="533.3" rx="2.6" ry="3.2" fill="#6fc66a"/>

<ellipse cx="866.7" cy="535.3" rx="4.6" ry="5.6" fill="#86d848"/>
<ellipse cx="867.0" cy="535.9" rx="2.6" ry="3.2" fill="#6fc66a"/>

<ellipse cx="879.9" cy="537.9" rx="4.6" ry="5.6" fill="#86d848"/>
<ellipse cx="880.2" cy="538.5" rx="2.6" ry="3.2" fill="#6fc66a"/>

<ellipse cx="893.2" cy="540.5" rx="4.6" ry="5.6" fill="#86d848"/>
<ellipse cx="893.5" cy="541.1" rx="2.6" ry="3.2" fill="#6fc66a"/>

<ellipse cx="906.4" cy="543.0" rx="4.6" ry="5.6" fill="#86d848"/>
<ellipse cx="906.7" cy="543.6" rx="2.6" ry="3.2" fill="#6fc66a"/>

<ellipse cx="919.7" cy="545.6" rx="4.6" ry="5.6" fill="#86d848"/>
<ellipse cx="920.0" cy="546.2" rx="2.6" ry="3.2" fill="#6fc66a"/>
<polygon points="844.6,545.6 927.6,560.9 927.6,562.6 844.6,547.2" fill="#68b400" />
<polygon points="609.7,733.9 627.9,722.7 704.0,738.4 704.0,774.6 687.9,784.5 609.7,769.2" fill="#2a2523" />
<polygon points="609.7,733.9 627.9,722.7 704.0,738.4 687.9,749.8" fill="#3d3834" />
<polygon points="616.6,733.7 630.3,725.1 700.4,739.2 687.5,747.2" fill="#1f1b1a" />
<polygon points="630.3,725.1 700.4,739.2 700.4,748.8 630.3,735.1" fill="#34302c" />
<polygon points="687.9,749.8 704.0,738.4 704.0,774.6 687.9,784.5" fill="#33302d" />
<polygon points="641.6,764.8 655.3,767.4 655.3,770.6 641.6,768.0" fill="#4a4643" />
<circle cx="693.2" cy="765.4" r="2" fill="#3a4428"/>
<rect x="630.1" y="732.3" width="2.9" height="4.8" rx="1.2" fill="#cbc8c0"/>
<rect x="635.3" y="729.1" width="2.9" height="9.3" rx="1.2" fill="#cbc8c0"/>
<rect x="641.7" y="734.3" width="2.9" height="27.4" rx="1.2" fill="#cbc8c0"/>
<rect x="646.7" y="731.1" width="2.9" height="26.6" rx="1.2" fill="#cbc8c0"/>
<rect x="653.0" y="736.4" width="2.9" height="27.8" rx="1.2" fill="#cbc8c0"/>
<rect x="658.0" y="733.1" width="2.9" height="9.7" rx="1.2" fill="#cbc8c0"/>
<rect x="664.7" y="738.8" width="2.9" height="5.2" rx="1.2" fill="#cbc8c0"/>
<rect x="669.5" y="735.6" width="2.9" height="9.7" rx="1.2" fill="#cbc8c0"/>
<rect x="676.0" y="741.2" width="2.9" height="5.2" rx="1.2" fill="#cbc8c0"/>
<rect x="681.2" y="738.0" width="2.9" height="10.1" rx="1.2" fill="#cbc8c0"/>
<ellipse cx="599.5" cy="752.5" rx="9.5" ry="5.6" fill="#e6e2f2"/>
<ellipse cx="599.5" cy="751.6" rx="7" ry="3.8" fill="#f6f5fb"/>
<path d="M596,749 l5,1 l2,3" stroke="#77727c" stroke-width="1" fill="none"/>
<polygon points="850.9,795.8 860.1,789.3 907.6,798.4 906.7,812.4 896.3,818.6 850.9,809.0" fill="#cf262d" />
<polygon points="850.9,795.8 860.1,789.3 907.6,798.4 897.6,805.0" fill="#da3036" />
<polygon points="897.6,805.0 907.6,798.4 906.7,812.4 896.3,818.6" fill="#bd1f26" />
<rect x="859.0" y="792.6" width="4" height="4.4" fill="#ead2ca"/>
<rect x="867.8" y="793.9" width="4" height="4.4" fill="#ead2ca"/>
<rect x="876.9" y="796.1" width="4" height="4.4" fill="#ead2ca"/>
<rect x="886.5" y="798.0" width="4" height="4.4" fill="#ead2ca"/>
<rect x="895.2" y="798.6" width="4" height="4.4" fill="#ead2ca"/>
<ellipse cx="911.8" cy="817.5" rx="2.8" ry="5" fill="#e2daf2"/>
</g>
<rect x="513.3" y="314.3" width="532.8" height="547.8" fill="none" stroke="#000" stroke-width="1.8"/>
<!-- CJK labels -->
<g font-family="'Liberation Serif','Noto Serif CJK SC',serif" font-weight="bold" fill="#1b64a6">
<text x="162.6" y="376.5" font-size="40" textLength="82" lengthAdjust="spacingAndGlyphs">功能</text>
<text x="213.4" y="736.8" font-size="40.5" textLength="81.8" lengthAdjust="spacingAndGlyphs">模块</text>
<text x="1280.4" y="488.6" font-size="40.5" textLength="122.7" lengthAdjust="spacingAndGlyphs">监测器</text>
<text x="1275.3" y="706.1" font-size="40.5" textLength="122.1" lengthAdjust="spacingAndGlyphs">调节器</text>
</g>
<!-- connector lines -->
<g stroke="#1b64a6" stroke-width="5.2" fill="none">
<line x1="165.5" y1="531.4" x2="780" y2="494.7"/>
<line x1="101.2" y1="796" x2="845.5" y2="513.5"/>
<line x1="1277.6" y1="541.7" x2="934" y2="607.9"/>
<line x1="1277.6" y1="778.6" x2="934" y2="658.1"/>
</g>
<g fill="#1b64a6">
<circle cx="780" cy="494.7" r="13.8"/><circle cx="845.5" cy="513.5" r="13.8"/>
<circle cx="934" cy="607.9" r="13.8"/><circle cx="934" cy="658.1" r="13.8"/>
</g>
</svg>
<div class="lbl" style="left:41.2px;top:341.2px;">FC/FO</div>
<div class="lbl" style="left:50.4px;top:701.2px;">Profibus</div>
</body></html>
